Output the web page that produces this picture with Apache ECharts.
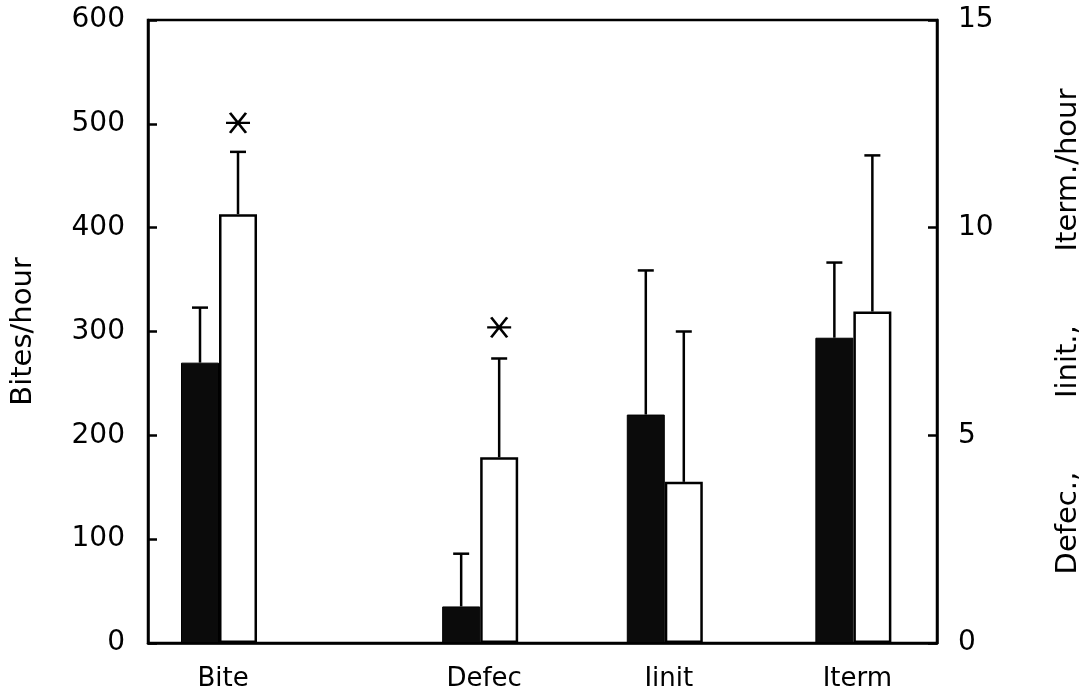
<!DOCTYPE html>
<html>
<head>
<meta charset="utf-8">
<script src="https://cdn.jsdelivr.net/npm/echarts@6/dist/echarts.min.js"></script>
<style>html,body{margin:0;padding:0;background:#fff}#c{width:1079px;height:695px}</style>
</head>
<body>
<div id="c"></div>
<script>
// Categories and where they sit along the (hidden) horizontal value scale 0-100
const categories = ['Bite', 'Defec', 'Iinit', 'Iterm'];
const categoryX = [9.0, 42.1, 65.5, 89.4];

// Left axis (Bites/hour) – only "Bite"
const biteBlack = 270, biteBlackErr = 323;
const biteWhite = 413, biteWhiteErr = 473;
const biteStar = 501;

// Right axis (Defec., Iinit., Iterm./hour) – Defec, Iinit, Iterm
const otherBlack = [0.88, 5.5, 7.35];
const otherBlackErr = [2.15, 8.97, 9.16];
const otherWhite = [4.47, 3.88, 7.98];
const otherWhiteErr = [6.85, 7.5, 11.74];
const defecStar = 7.6;

const leftTicks = [0, 100, 200, 300, 400, 500, 600];
const rightTicks = [0, 5, 10, 15];

const BAR_W = 38;
const FONT = 'DejaVu Sans';

// build data (index-aligned, null where absent)
const blackLeft = categoryX.map((x, i) => [x, i === 0 ? biteBlack : null]);
const whiteLeft = categoryX.map((x, i) => [x, i === 0 ? biteWhite : null]);
const blackRight = categoryX.map((x, i) => [x, i === 0 ? null : otherBlack[i - 1]]);
const whiteRight = categoryX.map((x, i) => [x, i === 0 ? null : otherWhite[i - 1]]);

const errBlackLeft = [[categoryX[0], biteBlack, biteBlackErr]];
const errWhiteLeft = [[categoryX[0], biteWhite, biteWhiteErr]];
const errBlackRight = otherBlack.map((v, i) => [categoryX[i + 1], v, otherBlackErr[i]]);
const errWhiteRight = otherWhite.map((v, i) => [categoryX[i + 1], v, otherWhiteErr[i]]);

function errRenderer(offset) {
  return function (params, api) {
    const p0 = api.coord([api.value(0), api.value(1)]);
    const p1 = api.coord([api.value(0), api.value(2)]);
    const x = p0[0] + offset;
    const cap = 8;
    const style = { stroke: '#000', lineWidth: 2.5 };
    return {
      type: 'group',
      children: [
        { type: 'line', shape: { x1: x, y1: p0[1], x2: x, y2: p1[1] }, style },
        { type: 'line', shape: { x1: x - cap, y1: p1[1], x2: x + cap, y2: p1[1] }, style }
      ]
    };
  };
}

const starPath = 'path://M-12,0L12,0M-8,-10L8,10M-8,10L8,-10';

const chart = echarts.init(document.getElementById('c'));
chart.setOption({
  animation: false,
  backgroundColor: '#fff',
  grid: { left: 148, right: 142, top: 20, bottom: 52, outerBoundsMode: 'none', containLabel: false,
          show: true, borderColor: '#000', borderWidth: 2.5, backgroundColor: 'transparent' },
  xAxis: {
    type: 'value', min: 0, max: 100,
    axisLine: { show: true, onZero: false, lineStyle: { color: '#000', width: 2.5 } },
    axisTick: { show: false },
    splitLine: { show: false },
    axisLabel: {
      customValues: categoryX,
      formatter: v => categories[categoryX.indexOf(v)] || '',
      color: '#000', fontFamily: FONT, fontSize: 26, margin: 23, padding: [0, 0, 0, 8]
    }
  },
  yAxis: [
    {
      type: 'value', min: 0, max: 600, interval: 100, position: 'left',
      name: 'Bites/hour', nameLocation: 'middle', nameGap: 110,
      nameTextStyle: { color: '#000', fontFamily: FONT, fontSize: 29 },
      axisLine: { show: true, lineStyle: { color: '#000', width: 2.5 } },
      axisTick: { show: true, inside: true, length: 9, lineStyle: { color: '#000', width: 2.5 } },
      splitLine: { show: false },
      axisLabel: { color: '#000', fontFamily: FONT, fontSize: 28, margin: 23, customValues: leftTicks }
    },
    {
      type: 'value', min: 0, max: 15, interval: 5, position: 'right',
      name: 'Defec.,        Iinit.,        Iterm./hour', nameLocation: 'middle', nameGap: 117,
      nameTextStyle: { color: '#000', fontFamily: FONT, fontSize: 29 },
      axisLine: { show: true, lineStyle: { color: '#000', width: 2.5 } },
      axisTick: { show: true, inside: true, length: 9, lineStyle: { color: '#000', width: 2.5 } },
      splitLine: { show: false },
      axisLabel: { color: '#000', fontFamily: FONT, fontSize: 28, margin: 21, customValues: rightTicks }
    }
  ],
  series: [
    { type: 'bar', name: 'blackL', stack: 'black', yAxisIndex: 0, data: blackLeft, barWidth: BAR_W, barGap: '0%',
      itemStyle: { color: '#0b0b0b', borderColor: '#000', borderWidth: 1 } },
    { type: 'bar', name: 'blackR', stack: 'black', yAxisIndex: 1, data: blackRight, barWidth: BAR_W, barGap: '0%',
      itemStyle: { color: '#0b0b0b', borderColor: '#000', borderWidth: 1 } },
    { type: 'bar', name: 'whiteL', stack: 'white', yAxisIndex: 0, data: whiteLeft, barWidth: BAR_W, barGap: '0%',
      itemStyle: { color: '#fff', borderColor: '#000', borderWidth: 2.5 } },
    { type: 'bar', name: 'whiteR', stack: 'white', yAxisIndex: 1, data: whiteRight, barWidth: BAR_W, barGap: '0%',
      itemStyle: { color: '#fff', borderColor: '#000', borderWidth: 2.5 } },
    { type: 'custom', yAxisIndex: 0, data: errBlackLeft, renderItem: errRenderer(-BAR_W / 2), z: 1 },
    { type: 'custom', yAxisIndex: 1, data: errBlackRight, renderItem: errRenderer(-BAR_W / 2), z: 1 },
    { type: 'custom', yAxisIndex: 0, data: errWhiteLeft, renderItem: errRenderer(BAR_W / 2), z: 1 },
    { type: 'custom', yAxisIndex: 1, data: errWhiteRight, renderItem: errRenderer(BAR_W / 2), z: 1 },
    { type: 'scatter', yAxisIndex: 0, data: [[categoryX[0], biteStar]], symbol: starPath, symbolSize: [24, 20], symbolOffset: [BAR_W / 2, 0],
      itemStyle: { color: 'rgba(0,0,0,0)', borderColor: '#000', borderWidth: 2.5, opacity: 1 } },
    { type: 'scatter', yAxisIndex: 1, data: [[categoryX[1], defecStar]], symbol: starPath, symbolSize: [24, 20], symbolOffset: [BAR_W / 2, 0],
      itemStyle: { color: 'rgba(0,0,0,0)', borderColor: '#000', borderWidth: 2.5, opacity: 1 } }
  ]
});
</script>
</body>
</html>
